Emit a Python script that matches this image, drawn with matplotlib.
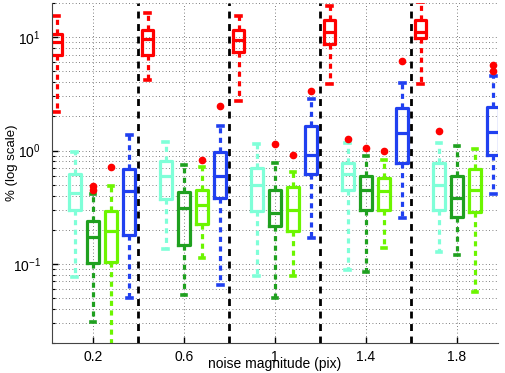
import numpy as np
import matplotlib
matplotlib.use("Agg")
import matplotlib.pyplot as plt
from matplotlib.ticker import FixedLocator, LogLocator, NullFormatter

plt.rcParams['font.family'] = ['Liberation Sans', 'DejaVu Sans']
plt.rcParams['mathtext.fontset'] = 'custom'
plt.rcParams['mathtext.rm'] = 'Liberation Sans'
plt.rcParams['mathtext.it'] = 'Liberation Sans'

# noise levels (group centres) and the series drawn in each group
noise = [0.2, 0.6, 1.0, 1.4, 1.8]
series = ['red', 'cyan', 'dgreen', 'lgreen', 'blue']
colors = {'red': '#ff0000', 'cyan': '#7fffd8', 'dgreen': '#1fa01f',
          'lgreen': '#6cf500', 'blue': '#2040f0'}
offsets = [-0.16, -0.08, 0.0, 0.08, 0.16]

# box statistics (percent)
whishi = {
    'red':    [15.2, 16.3, 15.2, 18.7, 20.5],
    'cyan':   [0.97, 1.18, 1.13, 1.17, 1.17],
    'dgreen': [0.41, 0.75, 0.78, 0.89, 1.09],
    'lgreen': [0.485, 0.71, 0.64, 0.83, 1.04],
    'blue':   [1.38, 1.66, 2.85, 3.9, 4.5],
}
q3 = {
    'red':    [10.7, 11.5, 11.5, 14.1, 14.3],
    'cyan':   [0.615, 0.80, 0.70, 0.78, 0.77],
    'dgreen': [0.24, 0.43, 0.45, 0.59, 0.59],
    'lgreen': [0.29, 0.45, 0.48, 0.575, 0.69],
    'blue':   [0.69, 0.97, 1.66, 2.38, 2.43],
}
med = {
    'red':    [9.0, 9.6, 9.5, 11.2, 11.2],
    'cyan':   [0.42, 0.60, 0.50, 0.615, 0.50],
    'dgreen': [0.174, 0.31, 0.283, 0.45, 0.38],
    'lgreen': [0.195, 0.33, 0.30, 0.44, 0.45],
    'blue':   [0.44, 0.60, 0.92, 1.43, 1.45],
}
q1 = {
    'red':    [7.0, 7.0, 7.4, 8.7, 9.8],
    'cyan':   [0.30, 0.375, 0.29, 0.45, 0.30],
    'dgreen': [0.102, 0.147, 0.215, 0.30, 0.26],
    'lgreen': [0.104, 0.226, 0.195, 0.30, 0.286],
    'blue':   [0.18, 0.38, 0.615, 0.78, 0.92],
}
whislo = {
    'red':    [2.2, 4.2, 2.76, 3.87, 3.87],
    'cyan':   [0.076, 0.134, 0.079, 0.088, 0.128],
    'dgreen': [0.031, 0.053, 0.050, 0.085, 0.119],
    'lgreen': [0.015, 0.112, 0.078, 0.139, 0.056],
    'blue':   [0.050, 0.065, 0.17, 0.255, 0.41],
}
fliers = {
    'red':    [[], [], [], [], []],
    'cyan':   [[], [], [], [1.27], [1.5]],
    'dgreen': [[0.45, 0.485], [], [1.13], [1.06], []],
    'lgreen': [[0.72], [0.83], [0.92], [0.99], []],
    'blue':   [[], [2.46], [3.33], [6.2], [5.0, 5.7]],
}
separators = [0.4, 0.8, 1.2, 1.6]

fig = plt.figure(figsize=(5.05, 3.73), dpi=100)
ax = fig.add_axes([0.103, 0.08, 0.883, 0.912])

for k, s in enumerate(series):
    c = colors[s]
    stats = []
    for g in range(len(noise)):
        stats.append(dict(med=med[s][g], q1=q1[s][g], q3=q3[s][g],
                          whislo=whislo[s][g], whishi=whishi[s][g],
                          fliers=fliers[s][g]))
    pos = [n + offsets[k] for n in noise]
    ax.bxp(stats, positions=pos, widths=0.052, capwidths=0.02,
           manage_ticks=False,
           boxprops=dict(color=c, lw=2.3),
           medianprops=dict(color=c, lw=2.3),
           whiskerprops=dict(color=c, lw=2.3, ls=(0, (1.6, 1.4))),
           capprops=dict(color=c, lw=2.6),
           flierprops=dict(marker='o', mfc='#ff0000', mec='#ff0000', ms=4.5))

for xs in separators:
    ax.axvline(xs, color='black', lw=2, ls=(0, (2.5, 2)), zorder=3)

ax.set_yscale('log')
ax.set_ylim(0.02, 20)
ax.set_xlim(0.02, 1.98)

ax.xaxis.set_major_locator(FixedLocator(noise))
ax.set_xticklabels(['0.2', '0.6', '1', '1.4', '1.8'])
ax.yaxis.set_major_locator(LogLocator(base=10))
ax.yaxis.set_minor_locator(LogLocator(base=10, subs=np.arange(2, 10)))
ax.yaxis.set_minor_formatter(NullFormatter())

ax.tick_params(axis='both', which='both', direction='in', labelsize=10)
ax.tick_params(axis='x', which='major', length=4, width=1, pad=5)
ax.tick_params(axis='y', which='major', length=4, width=1, pad=8)
ax.tick_params(axis='y', which='minor', length=2.5, width=0.8)

ax.grid(True, which='major', axis='x', ls=(0, (1, 3)), color='#555555', lw=0.6)
ax.grid(True, which='both', axis='y', ls=(0, (1, 3)), color='#555555', lw=0.6)
ax.set_axisbelow(True)

for sp in ['top', 'right']:
    ax.spines[sp].set_visible(False)
ax.spines['left'].set_color('#444444')
ax.spines['bottom'].set_color('#444444')

ax.set_xlabel('noise magnitude (pix)', fontsize=10)
ax.xaxis.set_label_coords(0.5, -0.062)
ax.xaxis.label.set_va('center')
ax.set_ylabel('% (log scale)', fontsize=9.5)
ax.yaxis.set_label_coords(-0.09, 0.53)
ax.yaxis.label.set_va('center')

fig.savefig('out.png', dpi=100)
